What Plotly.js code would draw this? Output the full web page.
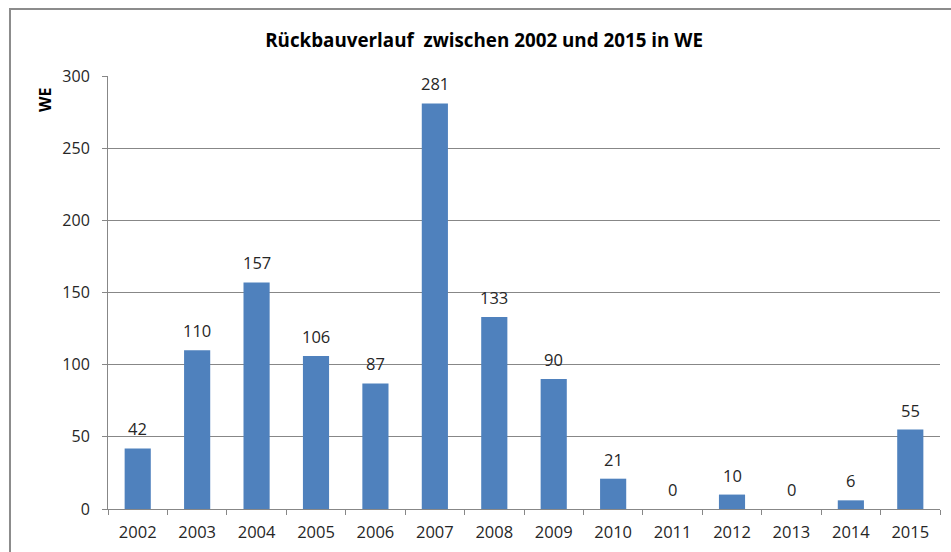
<!DOCTYPE html>
<html>
<head>
<meta charset="utf-8">
<script src="https://cdn.plot.ly/plotly-3.0.1.min.js"></script>
<style>
html,body{margin:0;padding:0;background:#fff;}
#chart{width:951px;height:552px;}
</style>
</head>
<body>
<div id="chart"></div>
<script>
var years = ["2002","2003","2004","2005","2006","2007","2008","2009","2010","2011","2012","2013","2014","2015"];
var values = [42,110,157,106,87,281,133,90,21,0,10,0,6,55];
var yTicks = [0,50,100,150,200,250,300];

var FONT = "Open Sans, Noto Sans, sans-serif";

var trace = {
  type: "bar",
  x: years,
  y: values,
  marker: {color: "#4F81BD"},
  width: 0.44,
  hoverinfo: "x+y"
};

// label annotations placed by category index on the category axis
var labelAnnotations = years.map(function (yr, i) {
  return {
    x: i, y: values[i], xref: "x", yref: "y",
    text: String(values[i]),
    showarrow: false,
    xanchor: "center", yanchor: "bottom",
    yshift: 6,
    font: {family: FONT, size: 16.5, color: "#262626"}
  };
});

var layout = {
  width: 951,
  height: 552,
  margin: {l: 108, r: 11, t: 76, b: 43},
  paper_bgcolor: "#ffffff",
  plot_bgcolor: "#ffffff",
  showlegend: false,
  title: {
    text: "<b>Rückbauverlauf  zwischen 2002 und 2015 in WE</b>",
    font: {family: FONT, size: 18.8, color: "#000000"},
    xref: "container", x: 0.509, xanchor: "center",
    yref: "container", y: 0.927, yanchor: "middle"
  },
  xaxis: {
    type: "category",
    range: [-0.5, years.length - 0.5],
    autorange: false,
    tickson: "boundaries",
    ticks: "outside",
    ticklen: 5,
    tickcolor: "#878787",
    showline: true,
    linecolor: "#878787",
    linewidth: 1,
    showgrid: false,
    ticklabelstandoff: 8,
    tickfont: {family: FONT, size: 16.5, color: "#262626"},
    fixedrange: true
  },
  yaxis: {
    range: [0, 300],
    autorange: false,
    tickvals: yTicks,
    ticktext: yTicks.map(String),
    ticks: "outside",
    ticklen: 5,
    tickcolor: "#878787",
    showline: true,
    linecolor: "#878787",
    linewidth: 1,
    showgrid: true,
    gridcolor: "#878787",
    gridwidth: 1,
    zeroline: false,
    ticklabelstandoff: 9,
    tickfont: {family: FONT, size: 16, color: "#262626"},
    fixedrange: true
  },
  annotations: [{
    text: "<b>WE</b>",
    textangle: -90,
    xref: "paper", yref: "paper",
    x: -0.0757, y: 0.9446,
    xanchor: "center", yanchor: "middle",
    showarrow: false,
    font: {family: FONT, size: 16, color: "#000000"}
  }].concat(labelAnnotations),
  shapes: [{
    type: "rect",
    xref: "paper", yref: "paper",
    x0: -0.1178, x1: 1.07, y0: -0.12, y1: 1.1547,
    line: {color: "#8c8c8c", width: 2},
    fillcolor: "rgba(0,0,0,0)",
    layer: "below"
  }]
};

Plotly.newPlot("chart", [trace], layout, {displayModeBar: false, staticPlot: true});
</script>
</body>
</html>
